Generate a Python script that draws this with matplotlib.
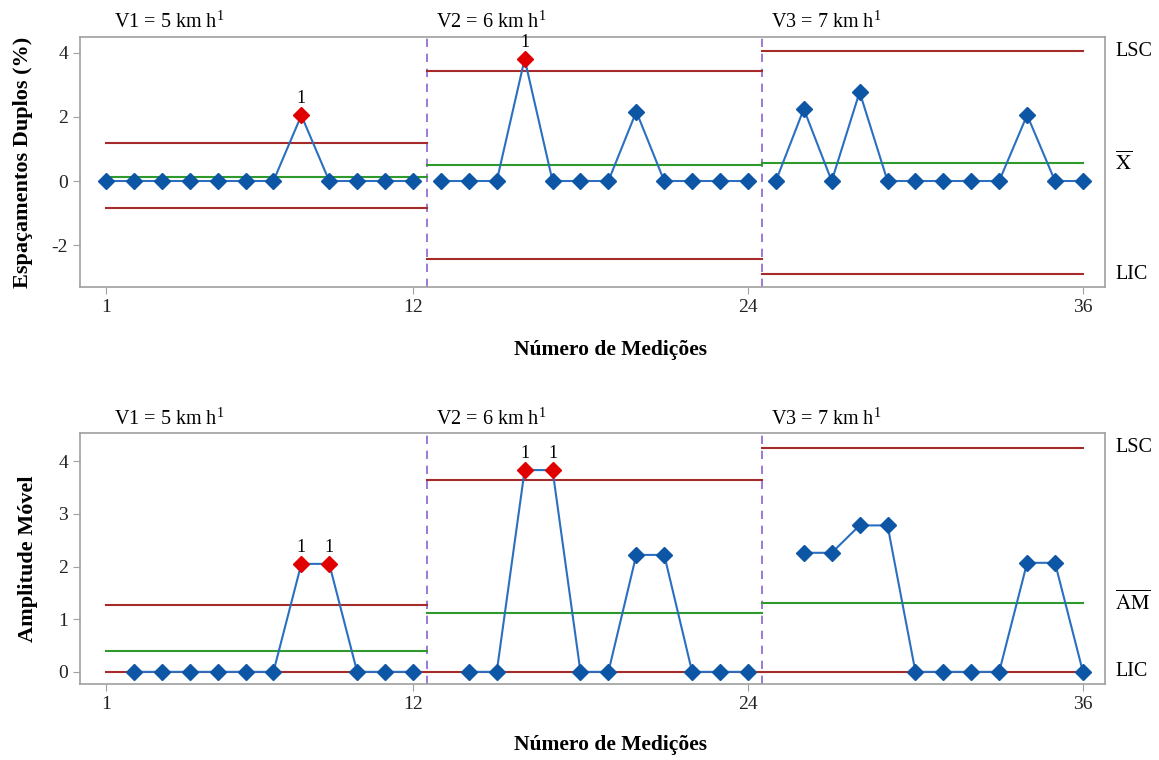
import matplotlib
matplotlib.use("Agg")
import matplotlib.pyplot as plt
import numpy as np

plt.rcParams['font.family'] = ['Liberation Serif', 'DejaVu Serif']
plt.rcParams['mathtext.fontset'] = 'stix'
plt.rcParams['font.size'] = 13
plt.rcParams['axes.unicode_minus'] = False

# segment boundaries and labels
seg_labels = ['V1 = 5 km h$^{\\mathregular{1}}$', 'V2 = 6 km h$^{\\mathregular{1}}$',
              'V3 = 7 km h$^{\\mathregular{1}}$']
seg_x = [1, 12.5, 24.5, 36]
seg_pts = [(1, 12), (13, 24), (25, 36)]

# top chart: individual values
ind_x = np.arange(1, 37)
ind_y = [0, 0, 0, 0, 0, 0, 0, 2.05, 0, 0, 0, 0,
         0, 0, 0, 3.81, 0, 0, 0, 2.17, 0, 0, 0, 0,
         0, 2.25, 0, 2.78, 0, 0, 0, 0, 0, 2.06, 0, 0]
ind_red = [8, 16]
ind_ucl = [1.19, 3.44, 4.06]
ind_cl = [0.12, 0.50, 0.56]
ind_lcl = [-0.84, -2.44, -2.91]

# bottom chart: moving ranges (first point of each segment has none)
mr_y = [None, 0, 0, 0, 0, 0, 0, 2.05, 2.05, 0, 0, 0,
        None, 0, 0, 3.83, 3.83, 0, 0, 2.22, 2.22, 0, 0, 0,
        None, 2.26, 2.26, 2.78, 2.78, 0, 0, 0, 0, 2.07, 2.07, 0]
mr_red = [8, 9, 16, 17]
mr_ucl = [1.27, 3.64, 4.25]
mr_cl = [0.40, 1.12, 1.31]
mr_lcl = [0, 0, 0]

BLUE = '#0d56a6'
LINE = '#2a6fc0'
RED = '#e00000'
DRED = '#a52a2a'
GREEN = '#2e9a2e'
PURPLE = '#8a63d2'
GRAY = '#a0a0a0'

fig = plt.figure(figsize=(11.59, 7.6), dpi=100)
ax1 = fig.add_axes([0.069, 0.6224, 0.8844, 0.329])
ax2 = fig.add_axes([0.069, 0.10, 0.8844, 0.330])


def draw(ax, ys, reds, ucl, cl, lcl, ylim, yticks, clabel, ylabel, ylx, xly):
    for s in range(3):
        x0, x1 = seg_x[s], seg_x[s + 1]
        ax.plot([x0, x1], [ucl[s], ucl[s]], color=DRED, lw=1.5, zorder=2)
        ax.plot([x0, x1], [lcl[s], lcl[s]], color=DRED, lw=1.5, zorder=2)
        ax.plot([x0, x1], [cl[s], cl[s]], color=GREEN, lw=1.5, zorder=2)
        a, b = seg_pts[s]
        xs = [x for x in ind_x if a <= x <= b and ys[x - 1] is not None]
        vals = [ys[x - 1] for x in xs]
        ax.plot(xs, vals, color=LINE, lw=1.5, zorder=3)
        for x, v in zip(xs, vals):
            c = RED if x in reds else BLUE
            ax.plot(x, v, marker='D', ms=8.5, color=c, mec=c, zorder=4)
            if x in reds:
                ax.annotate('1', (x, v), xytext=(0, 6), textcoords='offset points',
                            ha='center', va='bottom', fontsize=13)
    for bx in seg_x[1:3]:
        ax.axvline(bx, color=PURPLE, lw=1.2, ls=(0, (5, 4)), zorder=1)
    labx = [1.3, 12.83, 24.83]
    for lx, t in zip(labx, seg_labels):
        ax.text(lx, 1.015, t, transform=ax.get_xaxis_transform(), ha='left', va='bottom', fontsize=14.5)
    ax.set_xlim(0.07, 36.79)
    ax.set_ylim(*ylim)
    ax.set_xticks([1, 12, 24, 36])
    ax.set_yticks(yticks)
    for sp in ax.spines.values():
        sp.set_color(GRAY)
        sp.set_linewidth(1.2)
    ax.tick_params(colors=GRAY, labelcolor='#222222', length=5, labelsize=14)
    ax.set_xlabel('Número de Medições', fontweight='bold', fontsize=15.5)
    ax.xaxis.set_label_coords(0.518, xly)
    ax.set_ylabel(ylabel, fontweight='bold', fontsize=16)
    ax.yaxis.set_label_coords(ylx, 0.5)
    tr = ax.get_yaxis_transform()
    ax.text(1.01, ucl[2], 'LSC', transform=tr, va='center', ha='left', fontsize=14.5)
    ax.text(1.01, cl[2], clabel, transform=tr, va='center', ha='left', fontsize=15)
    ax.text(1.01, lcl[2], 'LIC', transform=tr, va='center', ha='left', fontsize=14.5)


draw(ax1, ind_y, ind_red, ind_ucl, ind_cl, ind_lcl, (-3.31, 4.5), [-2, 0, 2, 4],
     '$\\overline{\\mathrm{X}}$', 'Espaçamentos Duplos (%)', -0.0459, -0.213)
draw(ax2, mr_y, mr_red, mr_ucl, mr_cl, mr_lcl, (-0.23, 4.53), [0, 1, 2, 3, 4],
     '$\\overline{\\mathrm{AM}}$', 'Amplitude Móvel', -0.041, -0.205)

fig.savefig('out.png', dpi=100)
